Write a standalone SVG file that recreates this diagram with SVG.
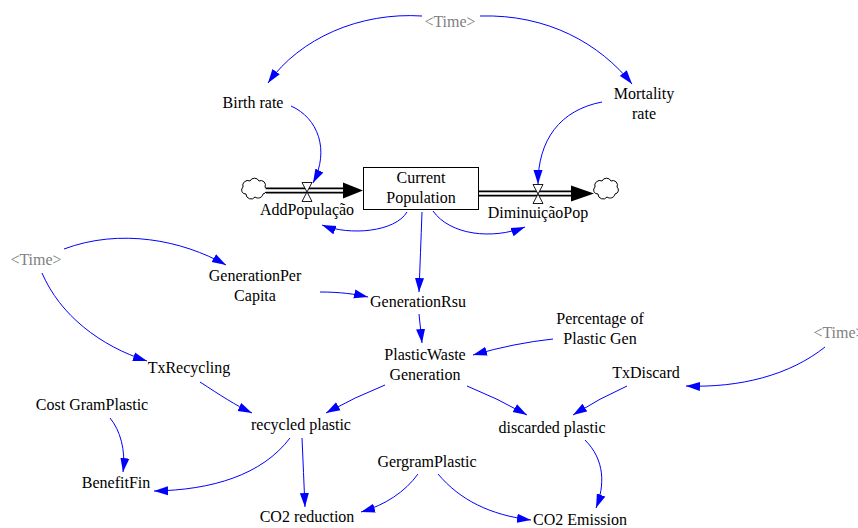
<svg xmlns="http://www.w3.org/2000/svg" width="858" height="528" viewBox="0 0 858 528">
<style>
text{font-family:"Liberation Serif","Times New Roman",serif;font-size:16px;fill:#000;text-anchor:middle}
text.shadow{fill:#808080}
.c{fill:none;stroke:#0000ff;stroke-width:1}
.pipeo{stroke:#000;stroke-width:6;fill:none}
.pipei{stroke:#fff;stroke-width:2.4;fill:none}
.valve{fill:#fff;stroke:#000;stroke-width:0.9}
.cloud{fill:#fff;stroke:#000;stroke-width:1}
</style>
<defs>
<marker id="ah" markerUnits="userSpaceOnUse" markerWidth="15" markerHeight="10" refX="14" refY="5" orient="auto">
<path d="M0,0.5 L14,5 L0,9.5 z" fill="#0000ff"/>
</marker>
<path id="cloudShape" d="M-8,5 a4,4 0 0 1 -3,-7 a5,5 0 0 1 7,-6 a5,5 0 0 1 9,0 a4.5,4.5 0 0 1 6,6 a4,4 0 0 1 -2,7 a5,5 0 0 1 -8,3 a5,5 0 0 1 -9,-3 z"/>
<path id="valveShape" d="M-5,-9.5 L5,-9.5 L-5,9.5 L5,9.5 z"/>
</defs>
<rect width="858" height="528" fill="#fff"/>

<g id="connectors">
<path class="c" marker-end="url(#ah)" d="M422,16 C360,12 300,38 268,83"/>
<path class="c" marker-end="url(#ah)" d="M480,16 C548,14 600,44 632,84"/>
<path class="c" marker-end="url(#ah)" d="M291,106 C318,118 330,150 313,183"/>
<path class="c" marker-end="url(#ah)" d="M602,102 C560,110 538,140 538,184"/>
<path class="c" marker-end="url(#ah)" d="M407,212 C395,232 350,236 322,225"/>
<path class="c" marker-end="url(#ah)" d="M433,211 C450,235 492,240 525,227"/>
<path class="c" marker-end="url(#ah)" d="M422,212 C421,240 420,265 419,292"/>
<path class="c" marker-end="url(#ah)" d="M64,249 C120,228 182,240 226,265"/>
<path class="c" marker-end="url(#ah)" d="M42,273 C60,315 100,346 147,361"/>
<path class="c" marker-end="url(#ah)" d="M320,292 C340,292 355,294 368,297"/>
<path class="c" marker-end="url(#ah)" d="M419,314 L422,343"/>
<path class="c" marker-end="url(#ah)" d="M553,339 Q515,343 473,355"/>
<path class="c" marker-end="url(#ah)" d="M825,347 C790,375 740,388 686,386"/>
<path class="c" marker-end="url(#ah)" d="M627,386 Q600,398 573,415"/>
<path class="c" marker-end="url(#ah)" d="M467,386 Q497,398 527,415"/>
<path class="c" marker-end="url(#ah)" d="M385,385 Q355,397 326,413"/>
<path class="c" marker-end="url(#ah)" d="M200,382 C220,395 235,405 252,413"/>
<path class="c" marker-end="url(#ah)" d="M110,418 C120,430 126,450 123,472"/>
<path class="c" marker-end="url(#ah)" d="M290,438 C262,475 212,490 154,491"/>
<path class="c" marker-end="url(#ah)" d="M302,438 C303,460 304,485 305,507"/>
<path class="c" marker-end="url(#ah)" d="M418,474 C405,492 385,505 361,512"/>
<path class="c" marker-end="url(#ah)" d="M438,474 C460,500 490,515 531,520"/>
<path class="c" marker-end="url(#ah)" d="M585,440 C605,460 605,485 596,508"/>
</g>

<g id="flow-AddPopulacao">
<use href="#cloudShape" class="cloud" transform="translate(254,189)"/>
<path class="pipeo" d="M266,190.5 H343"/>
<path class="pipei" d="M264,190.5 H344"/>
<polygon points="343,182.5 363,190.5 343,198.5" fill="#000"/>
<use href="#valveShape" class="valve" transform="translate(307,192)"/>
<text x="307" y="215">AddPopulação</text>
</g>

<g id="flow-DiminuicaoPop">
<path class="pipeo" d="M478,193.5 H573"/>
<path class="pipei" d="M478,193.5 H574"/>
<polygon points="571,185.5 594,193.5 571,201.5" fill="#000"/>
<use href="#cloudShape" class="cloud" transform="translate(606,189)"/>
<use href="#valveShape" class="valve" transform="translate(538,194)"/>
<text x="538" y="218">DiminuiçãoPop</text>
</g>

<g id="stock-CurrentPopulation">
<rect x="363.5" y="167.5" width="115" height="42" fill="#fff" stroke="#000" stroke-width="1"/>
<text x="421" y="183">Current</text>
<text x="421" y="203">Population</text>
</g>

<g id="time-top"><text class="shadow" x="450" y="27">&lt;Time&gt;</text></g>
<g id="birth-rate"><text x="253" y="108">Birth rate</text></g>
<g id="mortality-rate"><text x="644" y="99">Mortality</text><text x="644" y="119">rate</text></g>
<g id="time-left"><text class="shadow" x="36" y="265">&lt;Time&gt;</text></g>
<g id="generation-per-capita"><text x="255" y="281">GenerationPer</text><text x="255" y="301">Capita</text></g>
<g id="generation-rsu"><text x="418" y="307">GenerationRsu</text></g>
<g id="plastic-waste-generation"><text x="425" y="360">PlasticWaste</text><text x="425" y="380">Generation</text></g>
<g id="percentage-plastic-gen"><text x="600" y="324">Percentage of</text><text x="600" y="344">Plastic Gen</text></g>
<g id="time-right"><text class="shadow" x="839" y="338">&lt;Time&gt;</text></g>
<g id="tx-discard"><text x="646" y="378">TxDiscard</text></g>
<g id="tx-recycling"><text x="189" y="373">TxRecycling</text></g>
<g id="cost-gram-plastic"><text x="92" y="410">Cost GramPlastic</text></g>
<g id="recycled-plastic"><text x="301" y="430">recycled plastic</text></g>
<g id="discarded-plastic"><text x="552" y="433">discarded plastic</text></g>
<g id="gergram-plastic"><text x="427" y="467">GergramPlastic</text></g>
<g id="benefit-fin"><text x="116" y="488">BenefitFin</text></g>
<g id="co2-reduction"><text x="307" y="522">CO2 reduction</text></g>
<g id="co2-emission"><text x="580" y="525">CO2 Emission</text></g>
</svg>
